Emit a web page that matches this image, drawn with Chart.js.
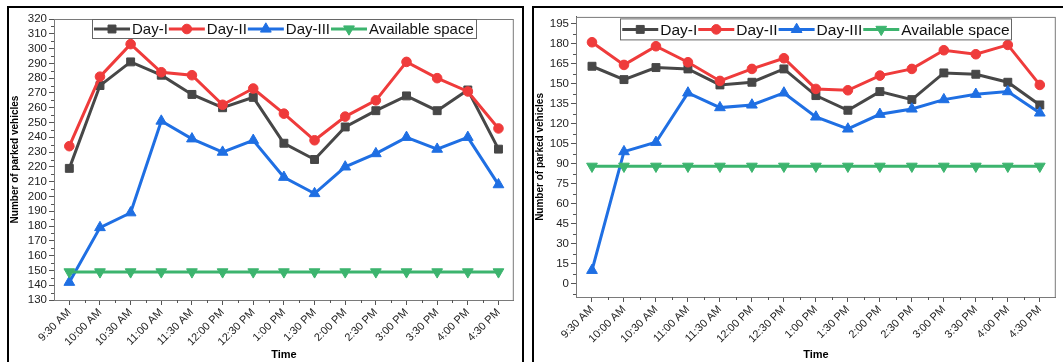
<!DOCTYPE html>
<html>
<head>
<meta charset="utf-8">
<script src="https://cdn.jsdelivr.net/npm/chart.js"></script>
<style>
  body { margin: 0; background: #fff; width: 1063px; height: 362px; overflow: hidden; position: relative; }
  .panel { position: absolute; border: 2px solid #000; box-sizing: border-box; }
  canvas { position: absolute; }
</style>
</head>
<body>
<div class="panel" style="left:7px;top:6px;width:517px;height:380px;"></div>
<div class="panel" style="left:532px;top:6px;width:560px;height:380px;"></div>
<canvas id="chartA" width="512" height="354" style="left:9px;top:8px;"></canvas>
<canvas id="chartB" width="529" height="354" style="left:534px;top:8px;"></canvas>
<script>
// categories + values
const timeLabels = ['9:30 AM', '10:00 AM', '10:30 AM', '11:00 AM', '11:30 AM', '12:00 PM', '12:30 PM',
  '1:00 PM', '1:30 PM', '2:00 PM', '2:30 PM', '3:00 PM', '3:30 PM', '4:00 PM', '4:30 PM'];
const seriesNames = ['Day-I', 'Day-II', 'Day-III', 'Available space'];

// left chart
const dayI_A = [219, 275, 291, 282, 269, 260, 267, 236, 225, 247, 258, 268, 258, 272, 232];
const dayII_A = [234, 281, 303, 284, 282, 262, 273, 256, 238, 254, 265, 291, 280, 271, 246];
const dayIII_A = [142, 179, 189, 251, 239, 230, 238, 213, 202, 220, 229, 240, 232, 240, 208];
const space_A = [149, 149, 149, 149, 149, 149, 149, 149, 149, 149, 149, 149, 149, 149, 149];
const yTicks_A = [130, 140, 150, 160, 170, 180, 190, 200, 210, 220, 230, 240, 250, 260, 270, 280, 290, 300, 310, 320];

// right chart
const dayI_B = [163, 153, 162, 161, 149, 151, 161, 141, 130, 144, 138, 158, 157, 151, 134];
const dayII_B = [181, 164, 178, 166, 152, 161, 169, 146, 145, 156, 161, 175, 172, 179, 149];
const dayIII_B = [10, 99, 106, 143, 132, 134, 143, 125, 116, 127, 131, 138, 142, 144, 128];
const space_B = [88, 88, 88, 88, 88, 88, 88, 88, 88, 88, 88, 88, 88, 88, 88];
const yTicks_B = [0, 15, 30, 45, 60, 75, 90, 105, 120, 135, 150, 165, 180, 195];

const FONT = 'Arial, "Liberation Sans", sans-serif';
const styles = [
  { color: '#474747', pointStyle: 'rect', radius: 5.6, rotation: 0 },
  { color: '#ef3b3b', pointStyle: 'circle', radius: 4.8, rotation: 0 },
  { color: '#1f6fe3', pointStyle: 'triangle', radius: 6.2, rotation: 0 },
  { color: '#3cb46e', pointStyle: 'triangle', radius: 6.2, rotation: 180 }
];

function buildDatasets(seriesList) {
  return seriesList.map((data, i) => ({
    label: seriesNames[i],
    data,
    borderColor: styles[i].color,
    backgroundColor: styles[i].color,
    pointBackgroundColor: styles[i].color,
    pointBorderColor: styles[i].color,
    pointBorderWidth: 1,
    pointStyle: styles[i].pointStyle,
    pointRadius: styles[i].radius,
    pointRotation: styles[i].rotation,
    borderWidth: 3,
    tension: 0,
    order: 4 - i
  }));
}

// plot frame, minor ticks and the boxed legend inside the plot
const decorPlugin = {
  id: 'decor',
  afterDraw(chart, args, opts) {
    const ctx = chart.ctx;
    const a = chart.chartArea;
    const x = chart.scales.x, y = chart.scales.y;
    ctx.save();
    ctx.strokeStyle = '#7a7a7a';
    ctx.lineWidth = 1;
    ctx.strokeRect(a.left + 0.5, a.top + 0.5, a.right - a.left - 1, a.bottom - a.top);

    // minor ticks
    ctx.strokeStyle = '#555';
    ctx.beginPath();
    const yt = y.ticks.map(t => t.value);
    const step = yt[1] - yt[0];
    const minors = [];
    for (let v = yt[0] - step / 2; v <= y.max; v += step) if (v >= y.min) minors.push(v);
    minors.forEach(v => {
      const p = Math.round(y.getPixelForValue(v)) + 0.5;
      ctx.moveTo(a.left - 3, p); ctx.lineTo(a.left, p);
    });
    for (let i = 0; i < timeLabels.length - 1; i++) {
      const p = Math.round((x.getPixelForValue(i) + x.getPixelForValue(i + 1)) / 2) + 0.5;
      ctx.moveTo(p, a.bottom); ctx.lineTo(p, a.bottom + 3);
    }
    ctx.stroke();

    // legend
    ctx.font = opts.fontSize + 'px ' + FONT;
    ctx.textBaseline = 'middle';
    const lineLen = 36;
    const items = chart.data.datasets.map(d => ({ d, w: ctx.measureText(d.label).width }));
    const total = items.reduce((s, it) => s + lineLen + 2 + it.w + 1, 0) + 3;
    let lx = (a.left + a.right) / 2 - total / 2;
    const ly = a.top + opts.offset;
    const h = opts.height;
    ctx.fillStyle = '#fff';
    ctx.fillRect(lx, ly, total, h);
    ctx.strokeStyle = '#666';
    ctx.strokeRect(Math.round(lx) + 0.5, ly + 0.5, Math.round(total), h);
    const cy = ly + h / 2 + 0.5;
    lx += 2;
    items.forEach((it, i) => {
      const st = styles[i];
      ctx.strokeStyle = st.color;
      ctx.fillStyle = st.color;
      ctx.lineWidth = 3;
      ctx.beginPath(); ctx.moveTo(lx, cy); ctx.lineTo(lx + lineLen, cy); ctx.stroke();
      ctx.lineWidth = 1;
      Chart.helpers.drawPoint(ctx, { pointStyle: st.pointStyle, radius: st.radius, rotation: st.rotation, borderWidth: 1 }, lx + lineLen / 2, cy);
      lx += lineLen + 2;
      ctx.fillStyle = '#111';
      ctx.fillText(it.d.label, lx, cy + 1);
      lx += it.w + 1;
    });
    ctx.restore();
  }
};

function makeChart(id, seriesList, yTicks, yMin, yMax, lay) {
  return new Chart(document.getElementById(id), {
    type: 'line',
    data: { labels: timeLabels, datasets: buildDatasets(seriesList) },
    plugins: [decorPlugin],
    options: {
      responsive: false,
      animation: false,
      layout: { padding: { top: lay.top, right: lay.right, left: 0, bottom: 0 } },
      plugins: {
        legend: { display: false },
        tooltip: { enabled: false },
        decor: { fontSize: lay.legendFont, offset: lay.legendOffset, height: lay.legendHeight }
      },
      scales: {
        x: {
          type: 'category',
          offset: true,
          afterFit: s => { s.height = lay.xHeight; },
          grid: { drawOnChartArea: false, drawTicks: true, tickLength: 5, color: '#555', offset: false },
          border: { color: '#555', width: 1 },
          ticks: { color: '#222', font: { family: FONT, size: 11 }, minRotation: 45, maxRotation: 45, padding: 1, autoSkip: false },
          title: { display: true, text: 'Time', color: '#000', font: { family: FONT, size: 11, weight: 'bold' }, padding: { top: 0, bottom: 0 } }
        },
        y: {
          min: yMin,
          max: yMax,
          afterBuildTicks: s => { s.ticks = yTicks.map(v => ({ value: v })); },
          afterFit: s => { s.width = lay.yWidth; },
          grid: { drawOnChartArea: false, drawTicks: true, tickLength: 5, color: '#555' },
          border: { color: '#555', width: 1 },
          ticks: { color: '#222', font: { family: FONT, size: 11.5 }, padding: 2, autoSkip: false },
          title: { display: true, text: 'Number of parked vehicles', color: '#000', font: { family: FONT, size: 10, weight: 'bold' }, padding: { top: 0, bottom: 0 } }
        }
      }
    }
  });
}

makeChart('chartA', [dayI_A, dayII_A, dayIII_A, space_A], yTicks_A, 130, 320,
  { top: 11, right: 5, xHeight: 62, yWidth: 45, legendFont: 15, legendOffset: 0, legendHeight: 19 });
makeChart('chartB', [dayI_B, dayII_B, dayIII_B, space_B], yTicks_B, -10, 200,
  { top: 8, right: 4, xHeight: 65, yWidth: 42, legendFont: 15.5, legendOffset: 1.5, legendHeight: 21 });
</script>
</body>
</html>
